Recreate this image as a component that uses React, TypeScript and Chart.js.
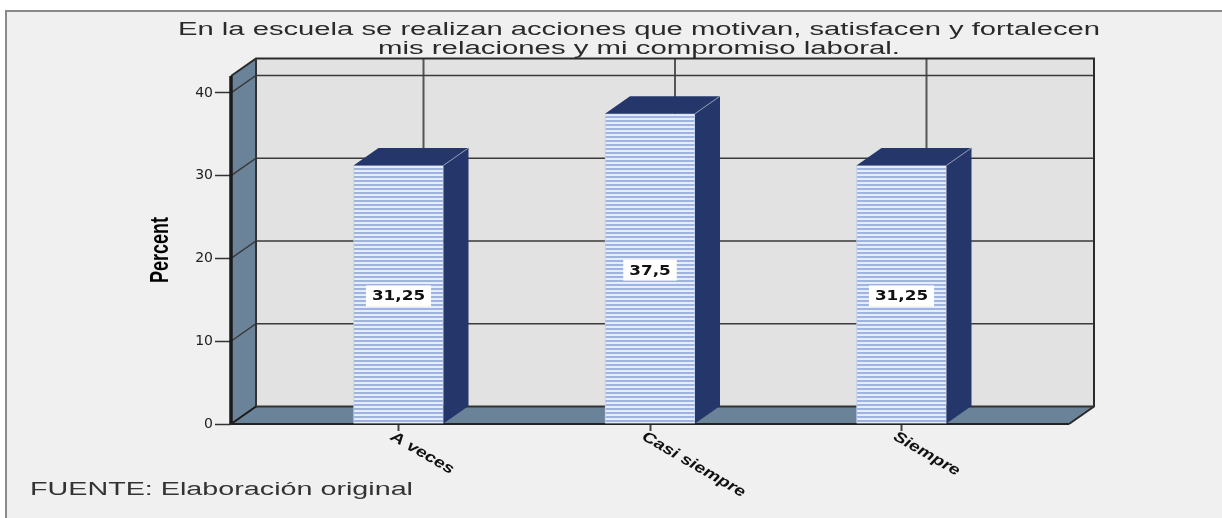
import React, { useEffect, useRef } from "react";
import { Chart, registerables } from "chart.js";

Chart.register(...registerables);

// Survey results, percent of answers per option
const categories = ["A veces", "Casi siempre", "Siempre"];
const percentValues = [31.25, 37.5, 31.25];
const valueLabels = ["31,25", "37,5", "31,25"];
const titleLines = [
  "En la escuela se realizan acciones que motivan, satisfacen y fortalecen",
  "mis relaciones y mi compromiso laboral.",
];
const footerText = "FUENTE: Elaboración original";
const yAxisTitle = "Percent";

const DEPTH_X = 25;
const DEPTH_Y = -17.5;
const BAR_NAVY = "#25366a";
const WALL_BLUE = "#6b8398";
const BACK_WALL = "#e2e2e2";
const PANEL = "#f0f0f0";
const LINE = "#3a3a3a";

// Horizontal stripes used on the front face of each bar
function stripePattern(ctx: CanvasRenderingContext2D) {
  const tile = document.createElement("canvas");
  tile.width = 4;
  tile.height = 4;
  const t = tile.getContext("2d")!;
  t.fillStyle = "#e6ecf8";
  t.fillRect(0, 0, 4, 4);
  t.fillStyle = "#9fb3e0";
  t.fillRect(0, 0, 4, 2);
  return ctx.createPattern(tile, "repeat")!;
}

function poly(ctx: CanvasRenderingContext2D, pts: number[][], fill?: string, stroke?: string, lw = 1) {
  ctx.beginPath();
  pts.forEach(([x, y], i) => (i ? ctx.lineTo(x, y) : ctx.moveTo(x, y)));
  if (fill) {
    ctx.closePath();
    ctx.fillStyle = fill;
    ctx.fill();
  }
  if (stroke) {
    ctx.strokeStyle = stroke;
    ctx.lineWidth = lw;
    ctx.stroke();
  }
}

// Text squeezed or widened horizontally so that it spans a given width
function fittedText(ctx: CanvasRenderingContext2D, text: string, x: number, y: number, width: number, font: string, color: string, angle = 0) {
  ctx.save();
  ctx.font = font;
  ctx.fillStyle = color;
  ctx.textAlign = "left";
  ctx.textBaseline = "alphabetic";
  const natural = ctx.measureText(text).width;
  ctx.translate(x, y);
  ctx.rotate(angle);
  ctx.scale(width / natural, 1);
  ctx.fillText(text, 0, 0);
  ctx.restore();
}

// Panel, title and footer behind everything else
const panelPlugin = {
  id: "panel",
  beforeDraw(chart: any) {
    const { ctx, width, height, chartArea: a } = chart;
    ctx.save();
    ctx.fillStyle = "#ffffff";
    ctx.fillRect(0, 0, width, height);
    ctx.fillStyle = PANEL;
    ctx.fillRect(7, 11, width - 7, height - 11);
    ctx.fillStyle = "#8a8a8a";
    ctx.fillRect(5, 10, width - 5, 2);
    ctx.fillRect(5, 10, 2, height - 10);
    ctx.restore();
    const font = "18px 'Liberation Sans'";
    fittedText(ctx, titleLines[0], 178, 35, 922, font, "#2a2a2a");
    fittedText(ctx, titleLines[1], 378, 54, 522, font, "#2a2a2a");
    fittedText(ctx, footerText, 30, 495, 383, font, "#333333");
    fittedText(ctx, yAxisTitle, 168, (a.top + a.bottom) / 2 + 33, 66, "bold 25px 'Liberation Sans'", "#000000", -Math.PI / 2);
  },
};

// Walls, floor and gridlines of the box, positioned from the scales
const boxPlugin = {
  id: "box",
  beforeDatasetsDraw(chart: any) {
    const { ctx, chartArea: a, scales } = chart;
    const { x, y } = scales;
    const dx = DEPTH_X;
    const dy = DEPTH_Y;
    ctx.save();
    // back wall
    poly(ctx, [[a.left + dx, a.top + dy], [a.right + dx, a.top + dy], [a.right + dx, a.bottom + dy], [a.left + dx, a.bottom + dy]], BACK_WALL);
    // left wall
    poly(ctx, [[a.left, a.top], [a.left + dx, a.top + dy], [a.left + dx, a.bottom + dy], [a.left, a.bottom]], WALL_BLUE);
    // floor
    poly(ctx, [[a.left, a.bottom], [a.left + dx, a.bottom + dy], [a.right + dx, a.bottom + dy], [a.right, a.bottom]], WALL_BLUE);

    // vertical gridlines on the back wall
    x.ticks.forEach((t: any) => {
      const px = x.getPixelForValue(t.value) + dx;
      poly(ctx, [[px, a.top + dy], [px, a.bottom + dy]], undefined, "#555555", 2);
    });
    // horizontal gridlines, running along the left and back walls
    y.ticks.forEach((t: any) => {
      if (t.value === 0) return;
      const py = y.getPixelForValue(t.value);
      poly(ctx, [[a.left, py], [a.left + dx, py + dy], [a.right + dx, py + dy]], undefined, LINE, 1.5);
    });
    // box outline
    poly(ctx, [[a.left, a.top], [a.left + dx, a.top + dy], [a.right + dx, a.top + dy], [a.right + dx, a.bottom + dy], [a.right, a.bottom]], undefined, "#2a2a2a", 2);
    poly(ctx, [[a.left + dx, a.top + dy], [a.left + dx, a.bottom + dy], [a.right + dx, a.bottom + dy]], undefined, "#333333", 2);
    poly(ctx, [[a.left + dx, a.bottom + dy], [a.left, a.bottom]], undefined, "#1a1a1a", 2);
    poly(ctx, [[a.left, a.top], [a.left, a.bottom]], undefined, "#1a1a1a", 3.5);
    poly(ctx, [[a.left, a.bottom], [a.right, a.bottom]], undefined, "#222222", 2);
    ctx.restore();
  },
  afterDatasetsDraw(chart: any) {
    const { ctx, chartArea: a, scales } = chart;
    const dx = DEPTH_X;
    const dy = DEPTH_Y;
    const meta = chart.getDatasetMeta(0);
    ctx.save();
    meta.data.forEach((bar: any, i: number) => {
      const left = bar.x - bar.width / 2;
      const right = bar.x + bar.width / 2;
      // top and side faces of the bar
      poly(ctx, [[left, bar.y], [left + dx, bar.y + dy], [right + dx, bar.y + dy], [right, bar.y]], BAR_NAVY);
      poly(ctx, [[right, bar.y], [right + dx, bar.y + dy], [right + dx, bar.base + dy], [right, bar.base]], BAR_NAVY);
      poly(ctx, [[right, bar.y], [right + dx, bar.y + dy]], undefined, "#8f9ab5", 1);

      // value label in a white box at mid height
      const cy = (bar.y + bar.base) / 2 + 1;
      const font = "bold 14px 'DejaVu Sans'";
      ctx.font = font;
      const tw = ctx.measureText(valueLabels[i]).width * 1.2;
      ctx.fillStyle = "#ffffff";
      ctx.fillRect(bar.x - tw / 2 - 6, cy - 10, tw + 12, 21);
      fittedText(ctx, valueLabels[i], bar.x - tw / 2, cy + 5, tw, font, "#111111");
    });

    // slanted category labels hanging from the ticks
    const x = scales.x;
    const labelFont = "italic bold 15px 'Liberation Sans'";
    x.ticks.forEach((t: any) => {
      const label = categories[t.value];
      ctx.font = labelFont;
      const w = ctx.measureText(label).width * 1.25;
      fittedText(ctx, label, x.getPixelForValue(t.value) - 9, a.bottom + 15, w, labelFont, "#111111", (30 * Math.PI) / 180);
    });
    ctx.restore();
  },
};

export default function App() {
  const ref = useRef<HTMLCanvasElement>(null);

  useEffect(() => {
    document.body.style.margin = "0";
    const canvas = ref.current!;
    const ctx = canvas.getContext("2d")!;
    const chart = new Chart(canvas, {
      type: "bar",
      data: {
        datasets: [
          {
            label: yAxisTitle,
            data: percentValues.map((v, i) => ({ x: i, y: v })),
            backgroundColor: stripePattern(ctx),
            borderColor: "#c3d0ea",
            borderWidth: 1,
            barThickness: 90,
          },
        ],
      },
      plugins: [panelPlugin, boxPlugin],
      options: {
        responsive: false,
        animation: false,
        layout: { padding: { left: 146, top: 76, right: 153, bottom: 0 } },
        plugins: { legend: { display: false }, title: { display: false }, tooltip: { enabled: false } },
        scales: {
          x: {
            type: "linear",
            offset: false,
            min: -0.666,
            max: 2.666,
            afterBuildTicks(scale: any) {
              scale.ticks = categories.map((_, i) => ({ value: i }));
            },
            afterFit(scale: any) {
              scale.height = 94;
            },
            grid: { offset: false, drawOnChartArea: false, drawTicks: true, tickLength: 7, tickColor: "#444444", tickWidth: 2 },
            border: { display: false },
            ticks: { display: false },
          },
          y: {
            min: 0,
            max: 42.05,
            afterBuildTicks(scale: any) {
              scale.ticks = [0, 10, 20, 30, 40].map((value) => ({ value }));
            },
            afterFit(scale: any) {
              scale.width = 85;
            },
            grid: { drawOnChartArea: false, drawTicks: true, tickLength: 16, tickColor: "#333333", tickWidth: 1.5 },
            border: { display: false },
            ticks: { color: "#222222", padding: 2, font: { family: "'DejaVu Sans'", size: 14 } },
          },
        },
      },
    } as any);
    return () => chart.destroy();
  }, []);

  return <canvas ref={ref} width={1222} height={518} style={{ display: "block" }} />;
}
